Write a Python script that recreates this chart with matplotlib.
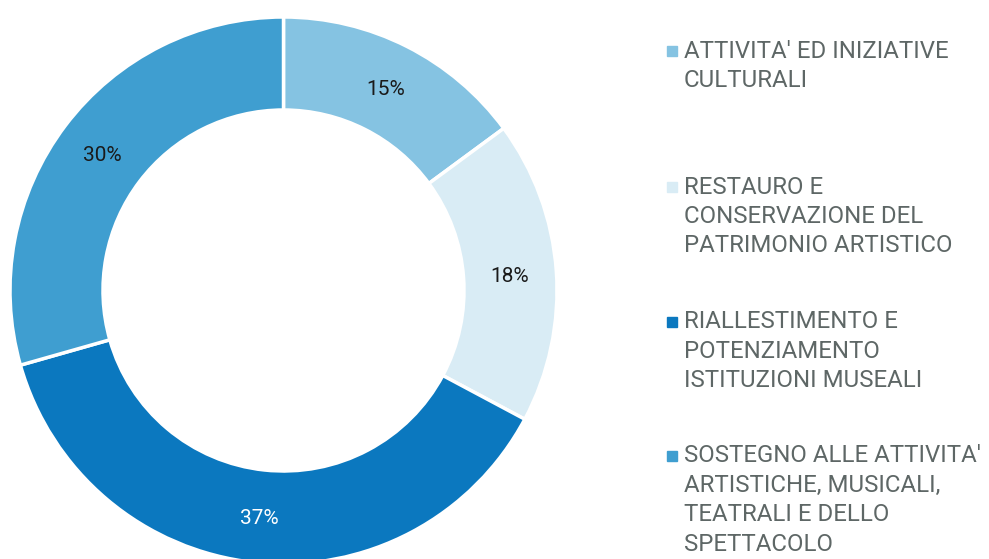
import matplotlib
matplotlib.use("Agg")
import matplotlib.pyplot as plt

# --- Data ---
categories = [
    "ATTIVITA' ED INIZIATIVE\nCULTURALI",
    "RESTAURO E\nCONSERVAZIONE DEL\nPATRIMONIO ARTISTICO",
    "RIALLESTIMENTO E\nPOTENZIAMENTO\nISTITUZIONI MUSEALI",
    "SOSTEGNO ALLE ATTIVITA'\nARTISTICHE, MUSICALI,\nTEATRALI E DELLO\nSPETTACOLO",
]
# slice sizes as measured from the arcs, printed labels as shown
shares = [14.9, 17.9, 37.8, 29.4]
pct_labels = ["15%", "18%", "37%", "30%"]
colors = ["#85c3e2", "#d9ecf5", "#0b78bf", "#3f9ed0"]
label_colors = ["#1a1a1a", "#1a1a1a", "#ffffff", "#1a1a1a"]

plt.rcParams["font.family"] = ["Roboto", "DejaVu Sans"]

W, H = 989, 559
fig = plt.figure(figsize=(W / 100, H / 100), dpi=100)

# donut: centre (283.5, 290.5) px from top, outer radius 273.5 px
R = 273.5
cx, cy = 283.5, H - 290.5
ax = fig.add_axes([(cx - R) / W, (cy - R) / H, 2 * R / W, 2 * R / H])
wedges, texts = ax.pie(
    shares, colors=colors, startangle=90, counterclock=False,
    radius=1.0, labels=pct_labels, labeldistance=0.83,
    wedgeprops=dict(width=0.34, edgecolor="white", linewidth=2.5),
    textprops=dict(fontsize=15),
)
for t, c in zip(texts, label_colors):
    t.set_color(c)
    t.set_ha("center")
    t.set_va("center_baseline")
ax.set_xlim(-1, 1)
ax.set_ylim(-1, 1)
ax.set_aspect("equal")
ax.axis("off")

# legend drawn by hand
entry_tops = [51, 187, 322, 456]  # first-line centres, px from top
line_gap = 29.4
for lab, col, ytop in zip(categories, colors, entry_tops):
    fig.patches.append(plt.Rectangle((667 / W, (H - ytop - 5) / H), 10 / W, 10 / H,
                                     transform=fig.transFigure, color=col, figure=fig))
    for i, line in enumerate(lab.split("\n")):
        fig.text(684 / W, (H - ytop - i * line_gap) / H, line, fontsize=17.3,
                 color="#5e6766", va="center", ha="left")

fig.savefig("out.png", dpi=100)
